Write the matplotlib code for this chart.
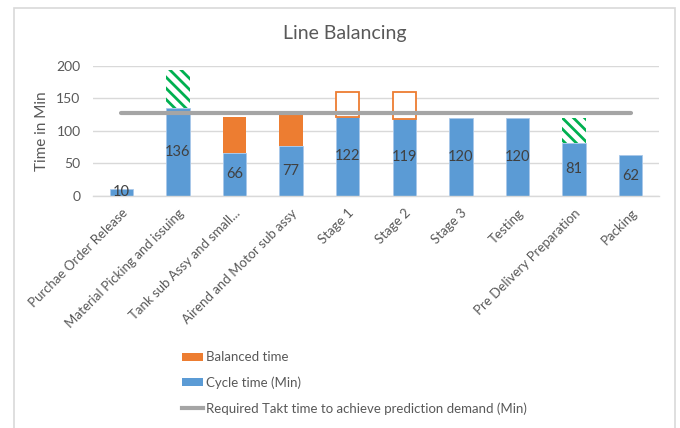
import matplotlib
matplotlib.use("Agg")
import matplotlib.pyplot as plt
from matplotlib.patches import Rectangle, Patch
from matplotlib.lines import Line2D

plt.rcParams['font.family'] = ['Lato', 'DejaVu Sans']
plt.rcParams['hatch.linewidth'] = 2.0

# ---- data ----
stations = ["Purchae Order Release", "Material Picking and issuing",
            "Tank sub Assy and small...", "Airend and Motor sub assy",
            "Stage 1", "Stage 2", "Stage 3", "Testing",
            "Pre Delivery Preparation", "Packing"]
cycle_time = [10, 136, 66, 77, 122, 119, 120, 120, 81, 62]
balanced_extra = [0, 0, 56, 48, 0, 0, 0, 0, 0, 0]      # orange stacked segment
spare_capacity = [0, 0, 0, 0, 38, 41, 0, 0, 0, 0]      # outlined boxes
excess_load = [0, 58, 0, 0, 0, 0, 0, 0, 39, 0]         # green hatched segment
takt_time = 127
y_ticks = [0, 50, 100, 150, 200]

BLUE = "#5B9BD5"
ORANGE = "#ED7D31"
GREEN = "#00B050"
GRAY_LINE = "#A5A5A5"
GRID = "#D9D9D9"
TEXT = "#595959"

fig = plt.figure(figsize=(6.8, 4.28), dpi=100)
ax = fig.add_axes([93 / 680, 1 - 195.7 / 428, (659 - 93) / 680, (195.7 - 66) / 428])

x = list(range(len(stations)))
w = 0.41

ax.bar(x, cycle_time, width=w, color=BLUE, edgecolor="#A9C8EA", linewidth=0.6, zorder=2)
ax.bar(x, balanced_extra, width=w, bottom=cycle_time, color=ORANGE, linewidth=0, zorder=2)

for xi, c, s in zip(x, cycle_time, spare_capacity):
    if s > 0:
        ax.bar(xi, s, width=w * 0.98, bottom=c, facecolor="white",
               edgecolor=ORANGE, linewidth=1.3, zorder=2)

for xi, c, e in zip(x, cycle_time, excess_load):
    if e > 0:
        ax.bar(xi, e, width=w, bottom=c, facecolor="white", edgecolor=GREEN,
               hatch="\\\\\\", linewidth=0, zorder=2)

ax.plot([x[0], x[-1]], [takt_time, takt_time], color=GRAY_LINE, lw=3.0,
        solid_capstyle="round", zorder=3)

for xi, c in zip(x, cycle_time):
    ax.text(xi, c / 2, str(c), ha="center", va="center", fontsize=10.5,
            color="#404040", zorder=4)

ax.set_xlim(-0.5, len(stations) - 0.5)
ax.set_ylim(0, 200)
ax.set_yticks(y_ticks)
ax.set_yticklabels([str(t) for t in y_ticks], fontsize=10, color=TEXT)
ax.set_xticks(x)
ax.set_xticklabels(stations, rotation=45, ha="right", rotation_mode="anchor",
                   fontsize=9.5, color=TEXT)
ax.tick_params(axis="both", length=0)
ax.tick_params(axis="y", pad=9)
ax.tick_params(axis="x", pad=8)
ax.grid(axis="y", color=GRID, linewidth=1.0, zorder=0)
ax.set_axisbelow(True)
for sp in ["top", "right", "left"]:
    ax.spines[sp].set_visible(False)
ax.spines["bottom"].set_color(GRID)
ax.spines["bottom"].set_linewidth(1.0)

ax.set_ylabel("Time in Min", fontsize=11, color=TEXT, labelpad=5)
fig.text(345 / 680, 1 - 34 / 428, "Line Balancing", ha="center", va="center",
         fontsize=14, color=TEXT)

handles = [Patch(facecolor=ORANGE, edgecolor="none"),
           Patch(facecolor=BLUE, edgecolor="none"),
           Line2D([0], [0], color=GRAY_LINE, lw=3.0)]
labels = ["Balanced time", "Cycle time (Min)",
          "Required Takt time to achieve prediction demand (Min)"]
fig.legend(handles, labels, loc="upper left", bbox_to_anchor=(177 / 680, 1 - 346 / 428),
           frameon=False, fontsize=9.5, labelcolor=TEXT, handlelength=1.6,
           handleheight=0.55, handletextpad=0.2, labelspacing=1.0, borderaxespad=0)

# light frame around the chart area
fig.add_artist(Rectangle((13.5 / 680, -0.05), (675 - 13.5) / 680, 1.05 - 7.5 / 428,
                         transform=fig.transFigure, fill=False, edgecolor=GRID,
                         linewidth=1.2))

fig.savefig("out.png", dpi=100, facecolor="white")
